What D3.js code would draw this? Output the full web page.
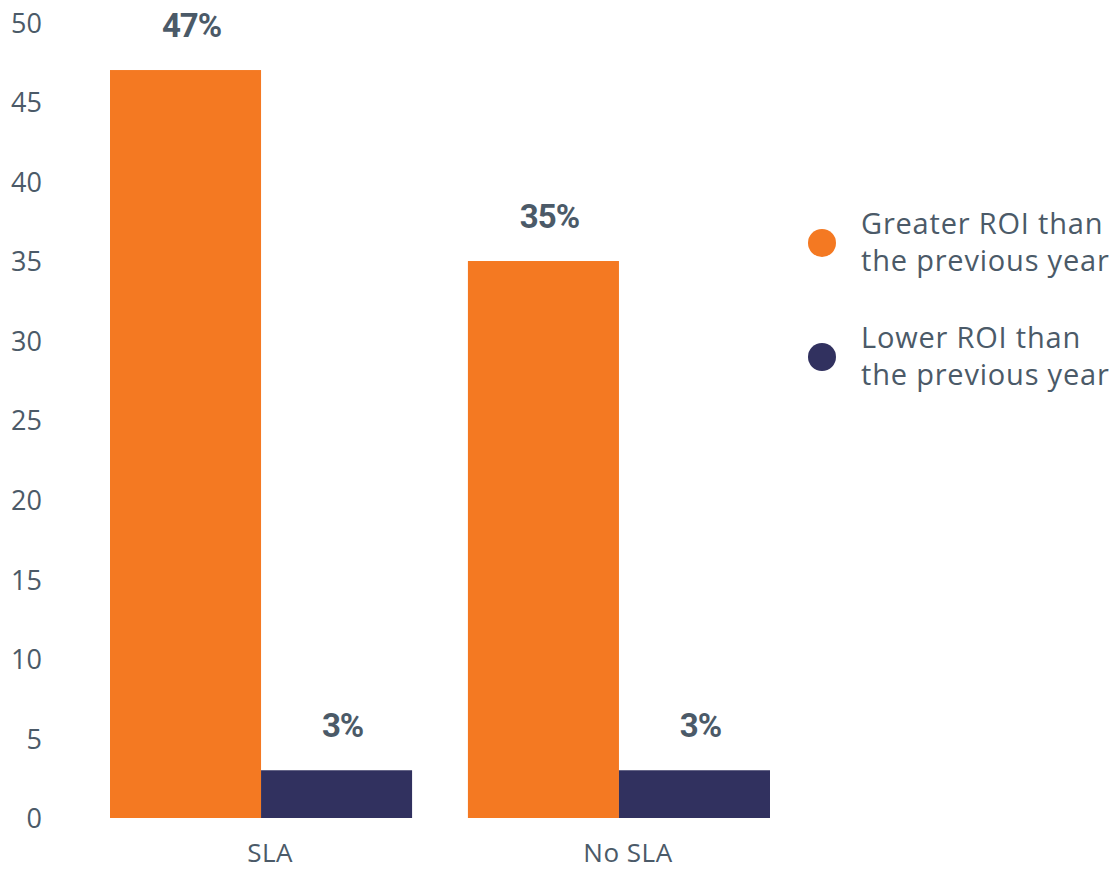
<!DOCTYPE html>
<html>
<head>
<meta charset="utf-8">
<script src="https://cdn.jsdelivr.net/npm/d3@7"></script>
<style>
  html, body { margin: 0; padding: 0; background: #fff; }
  svg { display: block; }
</style>
</head>
<body>
<svg id="chart" width="1118" height="869"></svg>
<script>
const categories = ["SLA", "No SLA"];
const seriesNames = ["Greater ROI than the previous year", "Lower ROI than the previous year"];
const legendLines = [["Greater ROI than", "the previous year"], ["Lower ROI than", "the previous year"]];
const greaterROI = [47, 35];
const lowerROI = [3, 3];
const yTicks = [0, 5, 10, 15, 20, 25, 30, 35, 40, 45, 50];
const colors = ["#f47922", "#31315f"];

const textColor = "#4b5a68";
const svg = d3.select("#chart");

const y = d3.scaleLinear().domain([0, 50]).range([818, 22.3]);
const x0 = d3.scaleBand().domain(categories).range([110, 770]).paddingInner(0.156).paddingOuter(0);
const x1 = d3.scaleBand().domain(seriesNames).range([0, x0.bandwidth()]).padding(0);
const color = d3.scaleOrdinal().domain(seriesNames).range(colors);

const data = categories.map((c, i) => ({
  cat: c,
  values: [
    { key: seriesNames[0], value: greaterROI[i] },
    { key: seriesNames[1], value: lowerROI[i] }
  ]
}));

// Y axis (labels only)
const yAxis = d3.axisLeft(y).tickValues(yTicks).tickSize(0).tickPadding(0);
const gy = svg.append("g").attr("transform", "translate(42,0)").call(yAxis);
gy.select(".domain").remove();
gy.selectAll("text")
  .attr("fill", textColor)
  .attr("font-family", "'Open Sans', sans-serif")
  .attr("font-weight", 500)
  .attr("font-size", 27)
  .attr("dy", "0.36em");

// X axis (labels only)
const xAxis = d3.axisBottom(x0).tickSize(0).tickPadding(0);
const gx = svg.append("g").attr("transform", "translate(9,862)").call(xAxis);
gx.select(".domain").remove();
gx.selectAll("text")
  .attr("fill", textColor)
  .attr("font-family", "'Open Sans', sans-serif")
  .attr("font-weight", 500)
  .attr("font-size", 26)
  .attr("letter-spacing", 0.5)
  .attr("dy", 0);

// Bars
const groups = svg.append("g").selectAll("g")
  .data(data).join("g")
  .attr("transform", d => `translate(${x0(d.cat)},0)`);

groups.selectAll("rect")
  .data(d => d.values).join("rect")
  .attr("x", d => x1(d.key))
  .attr("y", d => y(d.value))
  .attr("width", x1.bandwidth())
  .attr("height", d => y(0) - y(d.value))
  .attr("fill", d => color(d.key));

groups.selectAll("text.val")
  .data(d => d.values).join("text")
  .attr("class", "val")
  .attr("x", d => x1(d.key) + x1.bandwidth() / 2 + 6)
  .attr("y", d => y(d.value) - 33)
  .attr("text-anchor", "middle")
  .attr("fill", textColor)
  .attr("font-family", "Roboto, sans-serif")
  .attr("font-weight", "bold")
  .attr("font-size", 33)
  .attr("letter-spacing", -1)
  .text(d => d.value + "%");

// Legend
const legend = svg.append("g").selectAll("g")
  .data(seriesNames).join("g")
  .attr("transform", (d, i) => `translate(822,${243 + i * 114})`);

legend.append("circle")
  .attr("r", 14)
  .attr("fill", d => color(d));

legend.append("text")
  .attr("fill", textColor)
  .attr("font-family", "'Open Sans', sans-serif")
  .attr("font-weight", 500)
  .attr("font-size", 29)
  .attr("letter-spacing", 0.8)
  .selectAll("tspan")
  .data((d, i) => legendLines[i]).join("tspan")
  .attr("x", 39)
  .attr("y", (d, j) => -9 + j * 37)
  .text(d => d);
</script>
</body>
</html>
